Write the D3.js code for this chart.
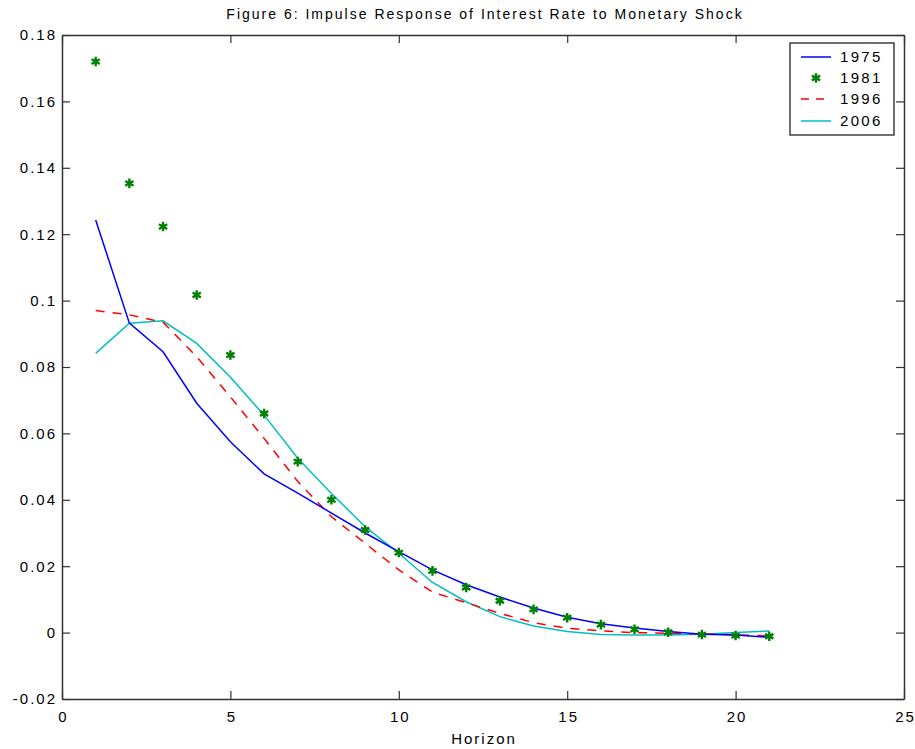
<!DOCTYPE html>
<html><head><meta charset="utf-8">
<script src="https://cdn.jsdelivr.net/npm/d3@7"></script>
<style>
body{margin:0;background:#fff;}
text{font-family:Arial,"Liberation Sans",sans-serif;fill:#000;}
</style></head><body>
<svg id="chart" width="915" height="749"></svg>
<script>
const horizon = [1,2,3,4,5,6,7,8,9,10,11,12,13,14,15,16,17,18,19,20,21];
const s1975 = [0.1243,0.0932,0.0846,0.0691,0.0575,0.0478,0.0420,0.0360,0.0300,0.0244,0.0189,0.0144,0.0107,0.0074,0.0046,0.0027,0.0014,0.0003,-0.0005,-0.0007,-0.0014];
const s1981 = [0.1720,0.1353,0.1223,0.1017,0.0836,0.0660,0.0515,0.0400,0.0309,0.0241,0.0186,0.0136,0.0096,0.0070,0.0045,0.0024,0.0010,0.0001,-0.0006,-0.0009,-0.0011];
const s1996 = [0.0970,0.0957,0.0935,0.0831,0.0710,0.0585,0.0455,0.0349,0.0269,0.0189,0.0122,0.0090,0.0058,0.0030,0.0013,0.0005,0.0000,-0.0002,-0.0004,-0.0007,-0.0010];
const s2006 = [0.0841,0.0932,0.0939,0.0871,0.0769,0.0655,0.0525,0.0419,0.0319,0.0239,0.0151,0.0093,0.0048,0.0020,0.0003,-0.0006,-0.0007,-0.0007,-0.0005,0.0000,0.0005];
const xTicks = [0,5,10,15,20,25];
const yTicks = [-0.02,0,0.02,0.04,0.06,0.08,0.1,0.12,0.14,0.16,0.18];
const seriesNames = ["1975","1981","1996","2006"];
const title = "Figure 6: Impulse Response of Interest Rate to Monetary Shock";
const xLabel = "Horizon";

const svg = d3.select("#chart");
const L=62, R=904, T=35, B=699;
const LS = 2; // letter spacing
const x = d3.scaleLinear().domain([0,25]).range([L,R]);
const y = d3.scaleLinear().domain([-0.02,0.18]).range([B,T]);
const yFmt = v => Math.abs(v)<1e-9 ? "0" : String(+v.toFixed(2));

const g = svg.append("g");
const ax = g.append("g").attr("transform",`translate(0,${B})`)
  .call(d3.axisBottom(x).tickValues(xTicks).tickSizeInner(-8).tickSizeOuter(0).tickPadding(12).tickFormat(d=>String(d)));
const axTop = g.append("g").attr("transform",`translate(0,${T})`)
  .call(d3.axisTop(x).tickValues(xTicks).tickSizeInner(-8).tickSizeOuter(0).tickFormat(""));
const ay = g.append("g").attr("transform",`translate(${L},0)`)
  .call(d3.axisLeft(y).tickValues(yTicks).tickSizeInner(-8).tickSizeOuter(0).tickPadding(5).tickFormat(yFmt));
const ayR = g.append("g").attr("transform",`translate(${R},0)`)
  .call(d3.axisRight(y).tickValues(yTicks).tickSizeInner(-8).tickSizeOuter(0).tickFormat(""));
[ax,axTop,ay,ayR].forEach(a=>{
  a.select(".domain").attr("stroke","#333").attr("stroke-width",1.5);
  a.selectAll(".tick line").attr("stroke","#333").attr("stroke-width",1.2);
  a.selectAll("text").attr("font-size",15).attr("font-family","Arial, 'Liberation Sans', sans-serif").attr("letter-spacing",LS+"px").attr("fill","#111");
});
ax.selectAll("text").attr("dx",LS/2);

const line = d3.line().x((d,i)=>x(horizon[i])).y(d=>y(d));
const plot = g.append("g");
plot.append("path").datum(s2006).attr("d",line).attr("fill","none").attr("stroke","#00bfbf").attr("stroke-width",1.5);
plot.append("path").datum(s1996).attr("d",line).attr("fill","none").attr("stroke","#ff0000").attr("stroke-width",1.5).attr("stroke-dasharray","9,8");
plot.append("path").datum(s1975).attr("d",line).attr("fill","none").attr("stroke","#0000ff").attr("stroke-width",1.5);
const star = d3.symbol().type(d3.symbolAsterisk).size(64);
plot.selectAll(".st").data(s1981).join("path").attr("class","st")
  .attr("transform",(d,i)=>`translate(${x(horizon[i])},${y(d)})`)
  .attr("d",star).attr("fill","none").attr("stroke","#008000").attr("stroke-width",2.4);

svg.append("text").attr("x",(L+R)/2+2).attr("y",19).attr("text-anchor","middle").attr("font-size",14).attr("letter-spacing","2px").text(title);
svg.append("text").attr("x",(L+R)/2+1).attr("y",744).attr("text-anchor","middle").attr("font-size",15).attr("letter-spacing",LS+"px").text(xLabel);

const lg = svg.append("g");
lg.append("rect").attr("x",790).attr("y",43).attr("width",104).attr("height",92).attr("fill","#fff").attr("stroke","#222").attr("stroke-width",1.3);
const ly = [57,78,99,121];
seriesNames.forEach((n,i)=>{
  const yy = ly[i];
  if(n==="1975") lg.append("line").attr("x1",801).attr("x2",831).attr("y1",yy).attr("y2",yy).attr("stroke","#0000ff").attr("stroke-width",1.5);
  if(n==="1996") lg.append("line").attr("x1",801).attr("x2",831).attr("y1",yy).attr("y2",yy).attr("stroke","#ff0000").attr("stroke-width",1.5).attr("stroke-dasharray","8,7");
  if(n==="2006") lg.append("line").attr("x1",801).attr("x2",831).attr("y1",yy).attr("y2",yy).attr("stroke","#00bfbf").attr("stroke-width",1.5);
  if(n==="1981") lg.append("path").attr("transform",`translate(816,${yy})`).attr("d",star).attr("fill","none").attr("stroke","#008000").attr("stroke-width",2.4);
  lg.append("text").attr("x",840).attr("y",yy+5).attr("font-size",15).attr("letter-spacing","2.3px").text(n);
});
</script>
</body></html>
